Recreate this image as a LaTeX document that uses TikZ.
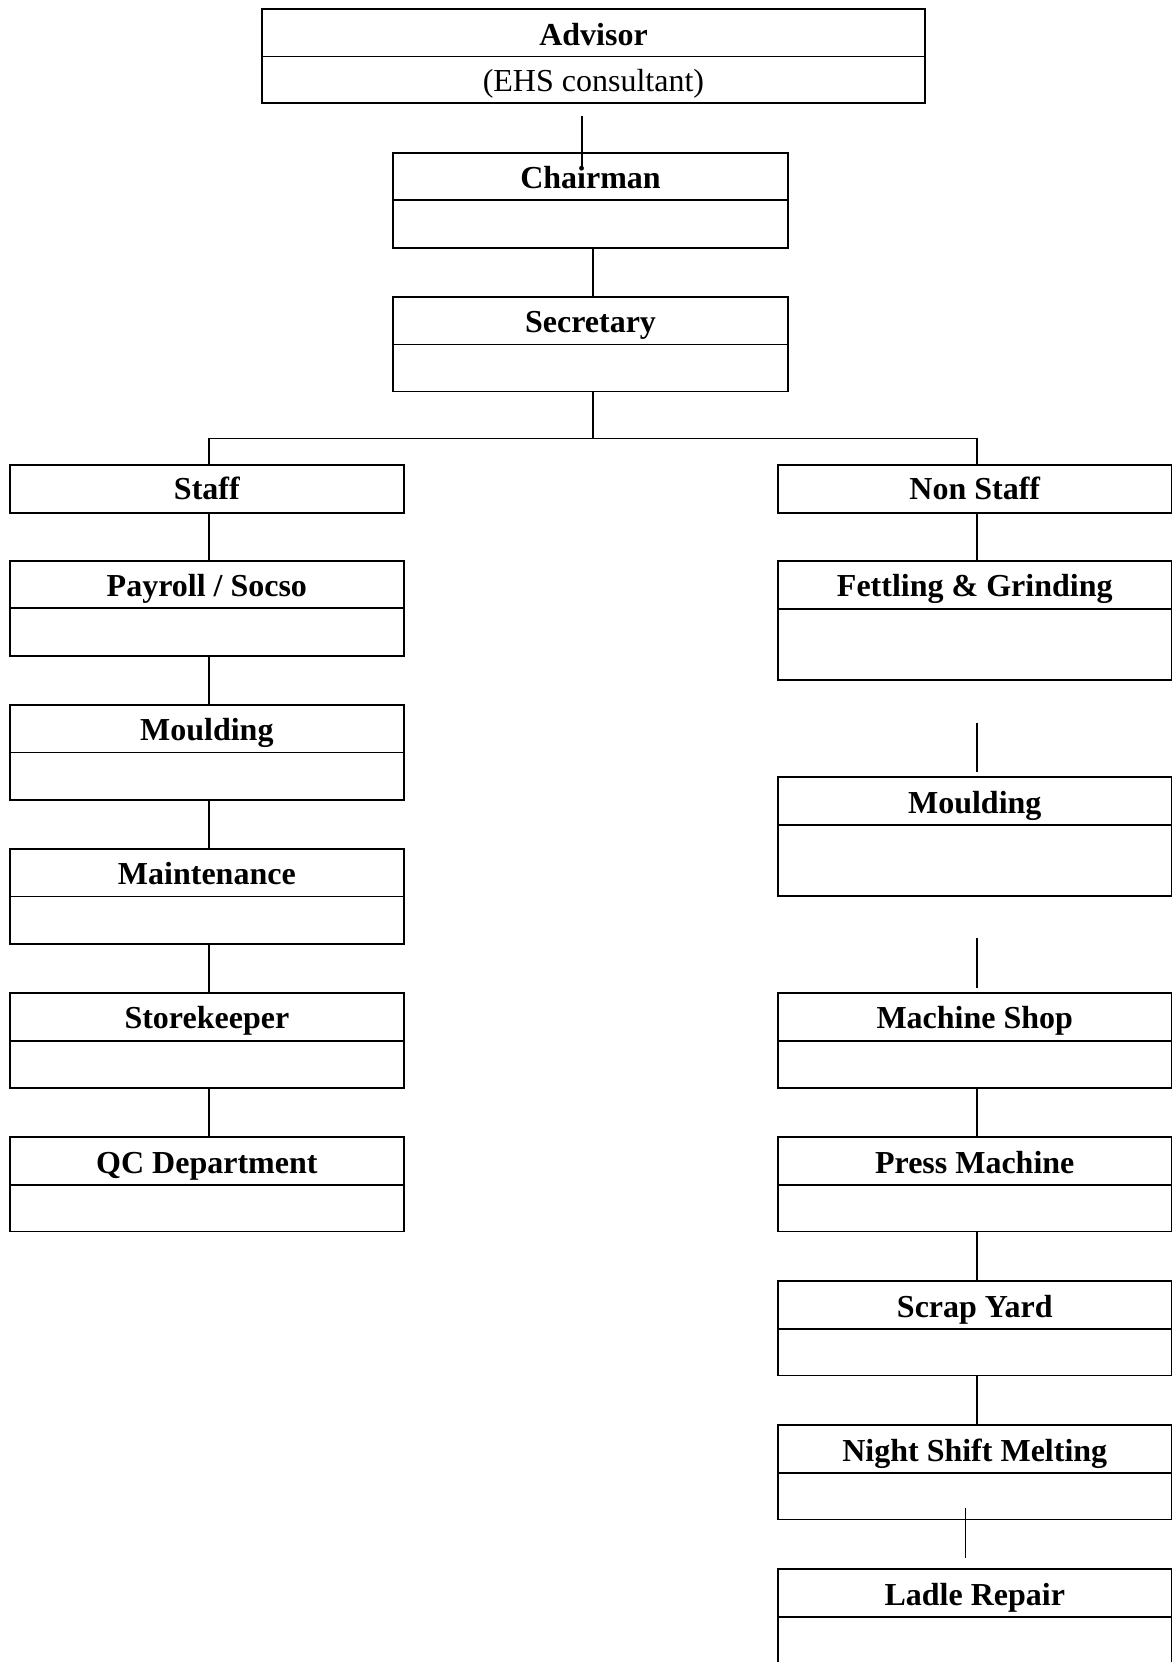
\documentclass[tikz,border=0pt]{standalone}
\usepackage{fontspec}
\setmainfont{Liberation Serif}
\usetikzlibrary{fit}
\tikzset{
  boxshape/.style={draw, line width=0.72pt, inner sep=0pt, outer sep=0pt},
  lbl/.style={font=\fontsize{12.8}{15}\selectfont\bfseries, anchor=base, inner sep=0pt},
  sublbl/.style={font=\fontsize{12.8}{15}\selectfont, anchor=base, inner sep=0pt},
  conn/.style={line width=0.5pt},
  divl/.style={line width=0.72pt}
}
% #1 name, #2 x left, #3 x right, #4 top, #5 divider, #6 bottom, #7 title
\newcommand{\orgbox}[7]{%
  \coordinate (#1-nw) at (#2,#4);
  \coordinate (#1-se) at (#3,#6);
  \node[boxshape, fit=(#1-nw)(#1-se)] (#1) {};
  \coordinate (#1-d) at (#2,#5);
  \draw[divl] (#1-d) -- (#1-d -| #1.east);
  \node[lbl] (#1-t) at ([yshift=-14.4pt]#1.north) {#7};
}
% single-row box
\newcommand{\onebox}[6]{%
  \coordinate (#1-nw) at (#2,#4);
  \coordinate (#1-se) at (#3,#5);
  \node[boxshape, fit=(#1-nw)(#1-se)] (#1) {};
  \node[lbl] (#1-t) at ([yshift=-13.8pt]#1.north) {#6};
}
\begin{document}
\begin{tikzpicture}[x=0.4pt, y=-0.4pt]
\useasboundingbox (0,0) rectangle (1172,1662);
\fill[white] (0,0) rectangle (1172,1662);
\clip (0,0) rectangle (1172,1662);

% reference x positions for connectors
\coordinate (cx) at (593,0);
\coordinate (lx) at (209,0);
\coordinate (rx) at (977,0);
\coordinate (bus) at (0,438.7);

% top chain
\orgbox{adv}{262}{925}{9}{56.5}{103}{Advisor}
\node[sublbl] (adv-s) at (593.4,91.5) {(EHS consultant)};
\orgbox{chair}{393}{788}{152.7}{200.3}{248}{Chairman}
\orgbox{sec}{393}{788}{296.7}{344.5}{391.5}{Secretary}

% level 2
\onebox{staff}{9.7}{404}{465}{513}{Staff}
\onebox{ns}{778}{1171.5}{465}{513}{Non Staff}

% left column
\orgbox{pay}{9.7}{404}{560.6}{608.3}{656}{Payroll / Socso}
\orgbox{mouL}{9.7}{404}{704.7}{752.4}{800.1}{Moulding}
\orgbox{mai}{9.7}{404}{848.8}{896.5}{944.2}{Maintenance}
\orgbox{sto}{9.7}{404}{992.9}{1040.6}{1088.3}{Storekeeper}
\orgbox{qc}{9.7}{404}{1137.1}{1184.7}{1231.4}{QC Department}

% right column
\orgbox{fet}{778}{1171.5}{560.6}{608.6}{679.6}{Fettling \& Grinding}
\orgbox{mouR}{778}{1171.5}{777}{824.8}{895.6}{Moulding}
\orgbox{msh}{778}{1171.5}{992.9}{1040.6}{1088.3}{Machine Shop}
\orgbox{pre}{778}{1171.5}{1137.1}{1184.7}{1231.4}{Press Machine}
\orgbox{scr}{778}{1171.5}{1281.2}{1328.9}{1375.5}{Scrap Yard}
\orgbox{nsm}{778}{1171.5}{1425.2}{1472.8}{1519.4}{Night Shift Melting}
\orgbox{lad}{778}{1171.5}{1569}{1617.3}{1700}{Ladle Repair}

% free connector ends
\coordinate (a1) at (582,116);
\coordinate (a2) at (582,166.7);
\coordinate (f1) at (977,722.7);
\coordinate (f2) at (977,772.3);
\coordinate (m1) at (977,937.8);
\coordinate (m2) at (977,987.6);
\coordinate (n1) at (965.7,1508.3);
\coordinate (n2) at (965.7,1557.7);

% connectors
\draw[conn] (a1) -- (a2);
\draw[conn] (chair.south -| cx) -- (sec.north -| cx);
\draw[conn] (sec.south -| cx) -- (bus -| cx);
\draw[conn] (staff.north -| lx) -- (bus -| lx) -- (bus -| rx) -- (ns.north -| rx);

\draw[conn] (staff.south -| lx) -- (pay.north -| lx);
\draw[conn] (pay.south -| lx) -- (mouL.north -| lx);
\draw[conn] (mouL.south -| lx) -- (mai.north -| lx);
\draw[conn] (mai.south -| lx) -- (sto.north -| lx);
\draw[conn] (sto.south -| lx) -- (qc.north -| lx);

\draw[conn] (ns.south -| rx) -- (fet.north -| rx);
\draw[conn] (f1) -- (f2);
\draw[conn] (m1) -- (m2);
\draw[conn] (msh.south -| rx) -- (pre.north -| rx);
\draw[conn] (pre.south -| rx) -- (scr.north -| rx);
\draw[conn] (scr.south -| rx) -- (nsm.north -| rx);
\draw[conn] (n1) -- (n2);
\end{tikzpicture}
\end{document}
